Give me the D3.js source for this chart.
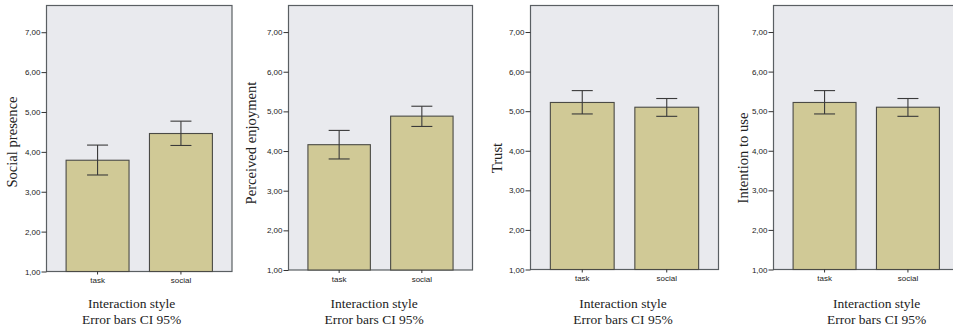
<!DOCTYPE html>
<html>
<head>
<meta charset="utf-8">
<script src="https://cdn.jsdelivr.net/npm/d3@7/dist/d3.min.js"></script>
<style>
  html, body { margin: 0; padding: 0; background: #ffffff; }
  svg { display: block; }
</style>
</head>
<body>
<svg id="chart" width="953" height="331"></svg>
<script>
// ---- data ----
const categories = ["task", "social"];
const measures = ["Social presence", "Perceived enjoyment", "Trust", "Intention to use"];
const meanValues = [[3.79, 4.46], [4.16, 4.88], [5.22, 5.10], [5.22, 5.10]];
const ciLower   = [[3.42, 4.16], [3.80, 4.62], [4.93, 4.87], [4.93, 4.87]];
const ciUpper   = [[4.17, 4.77], [4.52, 5.13], [5.52, 5.32], [5.52, 5.32]];
const yTicks = [1, 2, 3, 4, 5, 6, 7];
const xTitleLines = ["Interaction style", "Error bars CI 95%"];
const yDomain = [1, 7.67];

// ---- layout (positions only) ----
const panels = [
  { left: 46.5,  right: 232,   top: 5.5, bottom: 271.5, labX: 11.7,  labY: 142, titleX: 131.7 },
  { left: 288.5, right: 472.5, top: 5.5, bottom: 270,   labX: 250.7, labY: 143, titleX: 374.2 },
  { left: 530.5, right: 718.5, top: 5.5, bottom: 269.5, labX: 496.7, labY: 158, titleX: 623 },
  { left: 773.5, right: 959,   top: 5.5, bottom: 269.5, labX: 743.3, labY: 158, titleX: 876.7 }
];

const svg = d3.select("#chart");
const fmt = v => d3.format(".2f")(v).replace(".", ",");

measures.forEach((m, i) => {
  const p = panels[i];
  const g = svg.append("g");

  const y = d3.scaleLinear().domain(yDomain).range([p.bottom, p.top]);
  const x = d3.scaleBand().domain(categories).range([p.left, p.right])
    .paddingInner(0.245).paddingOuter(0.235);

  // plot background + frame
  g.append("rect")
    .attr("x", p.left).attr("y", p.top)
    .attr("width", p.right - p.left).attr("height", p.bottom - p.top)
    .attr("fill", "#e9eaee").attr("stroke", "#5a5f63").attr("stroke-width", 1.2);

  // bars
  g.selectAll("rect.bar").data(categories).enter().append("rect")
    .attr("class", "bar")
    .attr("x", c => x(c))
    .attr("y", (c, j) => y(meanValues[i][j]))
    .attr("width", x.bandwidth())
    .attr("height", (c, j) => p.bottom - y(meanValues[i][j]))
    .attr("fill", "#d0c996").attr("stroke", "#4a4a45").attr("stroke-width", 1.1);

  // error bars
  const capW = 21;
  categories.forEach((c, j) => {
    const cx = x(c) + x.bandwidth() / 2;
    const eg = g.append("g").attr("stroke", "#3a3a3a").attr("stroke-width", 1.1);
    eg.append("line").attr("x1", cx).attr("x2", cx)
      .attr("y1", y(ciLower[i][j])).attr("y2", y(ciUpper[i][j]));
    eg.append("line").attr("x1", cx - capW / 2).attr("x2", cx + capW / 2)
      .attr("y1", y(ciUpper[i][j])).attr("y2", y(ciUpper[i][j]));
    eg.append("line").attr("x1", cx - capW / 2).attr("x2", cx + capW / 2)
      .attr("y1", y(ciLower[i][j])).attr("y2", y(ciLower[i][j]));
  });

  // y axis
  const yAxis = g.append("g")
    .attr("transform", `translate(${p.left},0)`)
    .call(d3.axisLeft(y).tickValues(yTicks).tickFormat(fmt).tickSize(5).tickPadding(1));
  yAxis.select(".domain").remove();
  yAxis.selectAll("line").attr("stroke", "#333");
  yAxis.selectAll("text").attr("fill", "#222")
    .style("font-family", "'Liberation Sans', Arial, sans-serif").style("font-size", "8px");

  // x axis
  const xAxis = g.append("g")
    .attr("transform", `translate(0,${p.bottom})`)
    .call(d3.axisBottom(x).tickSize(3).tickPadding(3));
  xAxis.select(".domain").remove();
  xAxis.selectAll("line").attr("stroke", "#333");
  xAxis.selectAll("text").attr("fill", "#222")
    .style("font-family", "'Liberation Sans', Arial, sans-serif").style("font-size", "8px");

  // y label
  g.append("text")
    .attr("transform", `translate(${p.labX},${p.labY}) rotate(-90)`)
    .attr("text-anchor", "middle").attr("dominant-baseline", "central")
    .attr("fill", "#222")
    .style("font-family", "'Liberation Serif', 'Times New Roman', serif")
    .style("font-size", "14.6px")
    .text(m);

  // x titles
  xTitleLines.forEach((t, k) => {
    g.append("text")
      .attr("x", p.titleX).attr("y", 307.5 + k * 16.5)
      .attr("text-anchor", "middle").attr("fill", "#222")
      .style("font-family", "'Liberation Serif', 'Times New Roman', serif")
      .style("font-size", "13.5px")
      .text(t);
  });
});
</script>
</body>
</html>
